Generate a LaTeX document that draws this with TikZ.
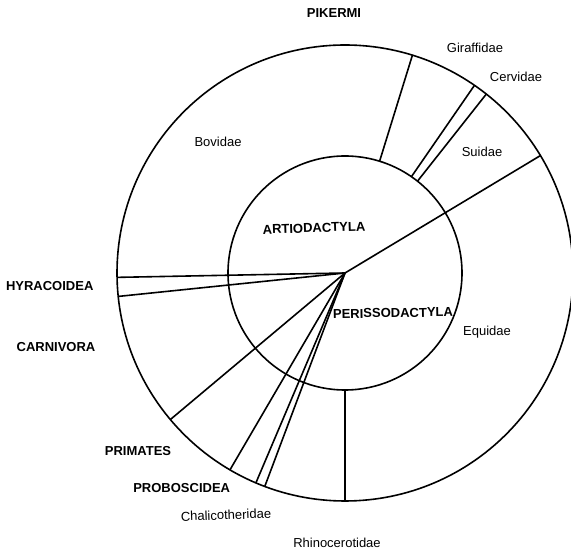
\documentclass[tikz,border=0pt]{standalone}
\usepackage{fontspec}
\setmainfont{Liberation Sans}
\usetikzlibrary{calc}
\begin{document}
\begin{tikzpicture}[x=1pt,y=1pt,
  ring/.style={line width=1.6pt},
  spoke/.style={line width=1.6pt},
  family/.style={font=\fontsize{13}{15}\selectfont, inner sep=0pt},
  order/.style={font=\fontsize{13}{15}\selectfont\bfseries, inner sep=0pt}]
\useasboundingbox (0,0) rectangle (571,551);
\coordinate (c) at (345,278);

% the two rings: orders inside, families outside
\draw[ring] (c) circle[radius=228];
\draw[ring] (c) circle[radius=117];

% spokes running from the hub to the outer ring
\foreach \a [count=\i] in {31,181.1,185.9,220,239.7,247,249.4}{
  \coordinate (ho\i) at ($(c)+(\a:228)$);
  \draw[spoke] (c) -- (ho\i);
}
% spokes that only divide the family ring
\foreach \a [count=\i] in {72.8,55.4,51.7,270}{
  \coordinate (ri\i) at ($(c)+(\a:117)$);
  \coordinate (ro\i) at ($(c)+(\a:228)$);
  \draw[spoke] (ri\i) -- (ro\i);
}

% labels
\node[order] (pikermi) at (334,537.5) {PIKERMI};
\node[order, rotate=2] (artio) at (314,323) {ARTIODACTYLA};
\node[order, rotate=1] (periss) at (393,238) {PERISSODACTYLA};
\node[order] (hyrac) at (49.7,265) {HYRACOIDEA};
\node[order] (carniv) at (56,204) {CARNIVORA};
\node[order] (prim) at (138,100.3) {PRIMATES};
\node[order] (probo) at (181.7,62.7) {PROBOSCIDEA};

\node[family] (giraf) at (475,503) {Giraffidae};
\node[family] (cerv) at (516,474) {Cervidae};
\node[family] (suid) at (482,399) {Suidae};
\node[family] (bovid) at (218,409) {Bovidae};
\node[family] (equid) at (487,219) {Equidae};
\node[family, rotate=2] (chalico) at (226,36) {Chalicotheridae};
\node[family] (rhino) at (337,8.3) {Rhinocerotidae};
\end{tikzpicture}
\end{document}
